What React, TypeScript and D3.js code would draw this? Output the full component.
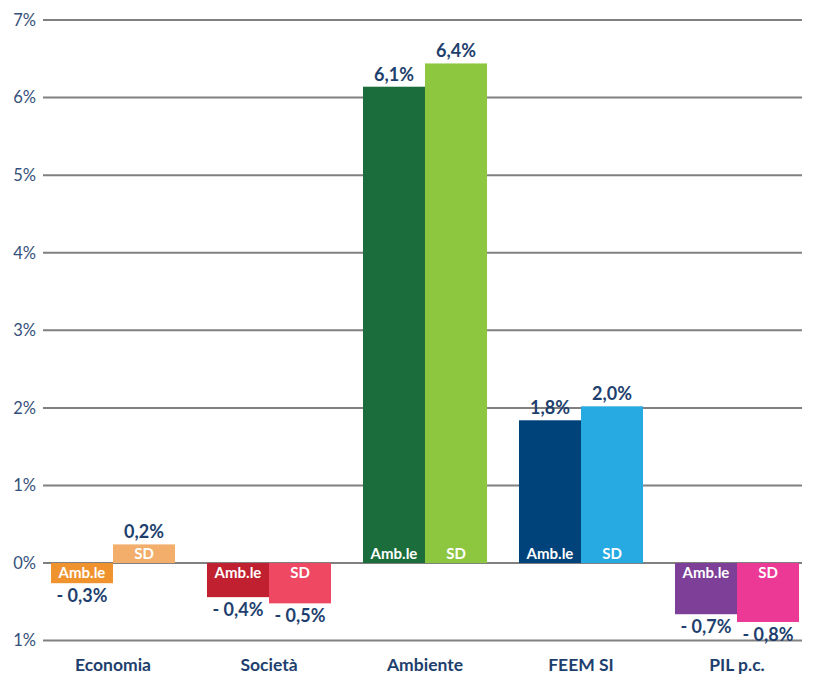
import React from "react";
import * as d3 from "d3";

const categories = ["Economia", "Società", "Ambiente", "FEEM SI", "PIL p.c."];
const seriesNames = ["Amb.le", "SD"];
const ambValues = [-0.26, -0.44, 6.14, 1.84, -0.66];
const sdValues = [0.24, -0.52, 6.44, 2.02, -0.76];
const ambColors = ["#F0922E", "#C0202F", "#1B6E3C", "#00427A", "#7D3F98"];
const sdColors = ["#F2AE6A", "#EE4863", "#8DC63F", "#27A9E1", "#EC3996"];
const yTicks = [-1, 0, 1, 2, 3, 4, 5, 6, 7];

const W = 823;
const H = 688;
const font = "Lato, 'Open Sans', sans-serif";
const navy = "#1E3F6E";

function fmt(v: number) {
  const s = Math.abs(v).toFixed(1).replace(".", ",") + "%";
  return v < 0 ? "- " + s : s;
}

export default function App() {
  const y = d3.scaleLinear().domain([-1, 7]).range([640.6, 20]);
  const x0 = d3
    .scaleBand<string>()
    .domain(categories)
    .range([35, 815])
    .paddingInner(0.205)
    .paddingOuter(0.1025);
  const x1 = d3.scaleBand<string>().domain(seriesNames).range([0, x0.bandwidth()]);

  const rows = categories.map((c, i) => ({
    cat: c,
    bars: [
      { s: seriesNames[0], v: ambValues[i], color: ambColors[i] },
      { s: seriesNames[1], v: sdValues[i], color: sdColors[i] },
    ],
  }));

  return (
    <svg width={W} height={H} style={{ position: "absolute", left: 0, top: 0, background: "#fff" }}>
      {yTicks.map((t) => (
        <g key={t}>
          <line x1={43} x2={802} y1={y(t)} y2={y(t)} stroke="#808080" strokeWidth={2} />
          <text
            x={36}
            y={y(t)}
            dy="0.35em"
            textAnchor="end"
            fontFamily={font}
            fontSize={16.5}
            fill="#34507A"
          >
            {Math.abs(t) + "%"}
          </text>
        </g>
      ))}
      {rows.map((r) => (
        <g key={r.cat} transform={`translate(${x0(r.cat)},0)`}>
          {r.bars.map((b) => {
            const bx = x1(b.s)!;
            const bw = x1.bandwidth();
            const top = y(Math.max(0, b.v));
            const bot = y(Math.min(0, b.v));
            const pos = b.v >= 0;
            return (
              <g key={b.s}>
                <rect x={bx} y={top} width={bw} height={bot - top} fill={b.color} />
                <text
                  x={bx + bw / 2}
                  y={pos ? y(0) - 4 : y(0) + 15}
                  textAnchor="middle"
                  fontFamily={font}
                  fontWeight="bold"
                  fontSize={15}
                  fill="#fff"
                >
                  {b.s}
                </text>
                <text
                  x={bx + bw / 2}
                  y={pos ? top - 6 : bot + 19}
                  textAnchor="middle"
                  fontFamily={font}
                  fontWeight="bold"
                  fontSize={18}
                  fill={navy}
                >
                  {fmt(b.v)}
                </text>
              </g>
            );
          })}
          <text
            x={x0.bandwidth() / 2}
            y={671}
            textAnchor="middle"
            fontFamily={font}
            fontWeight="bold"
            fontSize={17.5}
            fill={navy}
          >
            {r.cat}
          </text>
        </g>
      ))}
    </svg>
  );
}
